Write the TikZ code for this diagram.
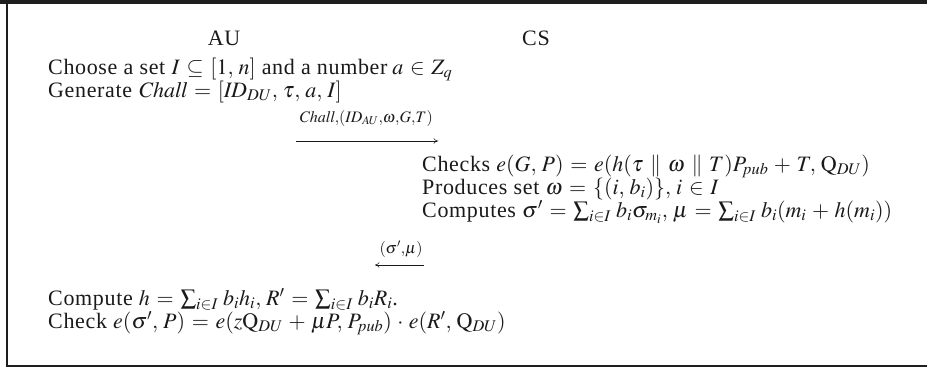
\documentclass[tikz,border=0pt]{standalone}
\usepackage{amsmath}
\usepackage{mathptmx}
\usepackage[no-math]{fontspec}
\setmainfont[LetterSpace=3]{Liberation Serif}
\usetikzlibrary{arrows.meta}
\definecolor{framec}{HTML}{1E1E1E}
\definecolor{txt}{HTML}{1A1A1A}
\newcommand{\bigtext}{\fontsize{22}{26}\selectfont\thinmuskip=4mu\thickmuskip=5.5mu plus 2mu\medmuskip=4.5mu plus 2mu}
\tikzset{
  line/.style={anchor=base west, inner sep=0pt, text=txt, font=\bigtext},
  head/.style={anchor=base, inner sep=0pt, text=txt, font=\bigtext},
  lbl/.style={anchor=base, inner sep=0pt, text=txt, font=\fontsize{16}{18}\selectfont},
  msg/.style={draw=txt, line width=0.6pt, -{To[length=4.5pt,width=5.5pt]}},
  frame/.style={draw=framec, line width=2pt}
}
\begin{document}
\begin{tikzpicture}[x=1pt,y=1pt]
\useasboundingbox (0,0) rectangle (927,-370);
\fill[framec] (0,0) rectangle (927,-3.5);
\draw[frame] (7,-3) -- (7,-366) -- (927,-366);
% headers
\node[head] (au) at (224,-45) {AU};
\node[head] (cs) at (536,-45) {CS};
% AU lines
\node[line] (l1) at (48,-74) {Choose a set $I \subseteq [1,n]$ and a number$\,a \in Z_q$};
\node[line] (l2) at (48,-97) {Generate $\mathit{Chall} = [\mathit{ID}_{DU}, \tau, a, I]$};
% message 1
\coordinate (m1s) at (296,-141);
\coordinate (m1e) at (438,-141);
\node[lbl] (m1l) at (366,-122) {$\mathit{Chall}{,}(\mathit{ID}_{AU}{,}\omega{,}G{,}T)$};
\draw[msg] (m1s) -- (m1e);
% CS lines
\node[line] (c1) at (422,-171) {Checks $e(G,P) = e(h(\tau \parallel \omega \parallel T)P_{\mathit{pub}} + T, \mathrm{Q}_{DU})$};
\node[line] (c2) at (422,-194) {Produces set $\omega = \{(i,b_i)\}, i \in I$};
\node[line] (c3) at (422,-217) {Computes $\sigma' = \sum_{i\in I} b_i\sigma_{m_i}, \mu = \sum_{i\in I} b_i(m_i + h(m_i))$};
% message 2
\coordinate (m2s) at (424,-265);
\coordinate (m2e) at (375,-265);
\node[lbl] (m2l) at (401,-253) {$(\sigma'{,}\mu)$};
\draw[msg] (m2s) -- (m2e);
% AU final lines
\node[line] (l3) at (48,-305) {Compute $h = \sum_{i\in I} b_i h_i, R' = \sum_{i\in I} b_i R_i$.};
\node[line] (l4) at (48,-328) {Check $e(\sigma',P) = e(z\mathrm{Q}_{DU} + \mu P, P_{\mathit{pub}})\cdot e(R',\mathrm{Q}_{DU})$};
\end{tikzpicture}
\end{document}
